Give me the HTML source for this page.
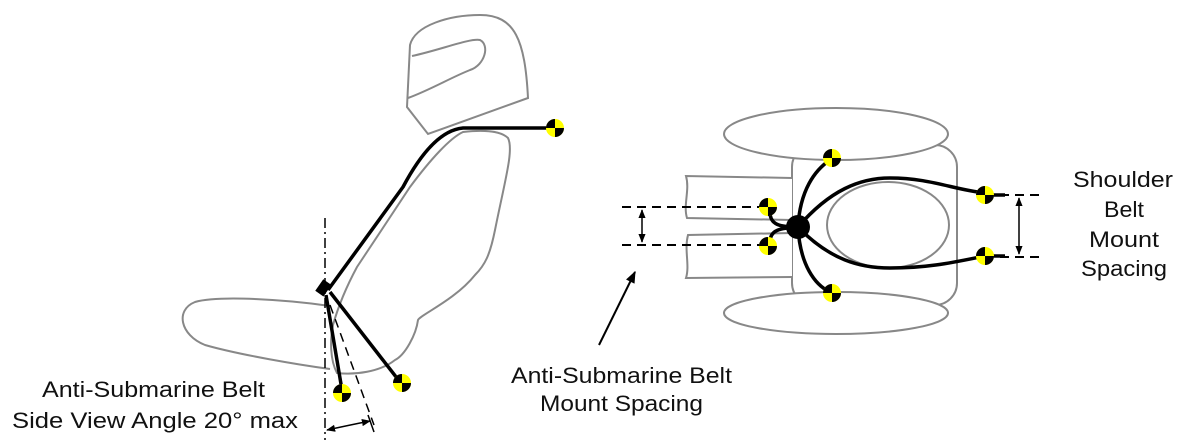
<!DOCTYPE html>
<html><head><meta charset="utf-8"><style>
html,body{margin:0;padding:0;background:#fff;}
svg{display:block;}
text{font-family:"Liberation Sans",Arial,sans-serif;font-size:22.5px;fill:#111;}
</style></head><body>
<svg width="1187" height="443" viewBox="0 0 1187 443" xmlns="http://www.w3.org/2000/svg">
<defs>
<g id="anc">
<circle r="9" fill="#ffff00"/>
<path d="M0,0 L-9,0 A9,9 0 0 1 0,-9 Z" fill="#000"/>
<path d="M0,0 L9,0 A9,9 0 0 1 0,9 Z" fill="#000"/>
</g>
<marker id="ah" viewBox="0 0 10 10" refX="9" refY="5" markerWidth="6" markerHeight="6" orient="auto-start-reverse"><path d="M0,1 L10,5 L0,9 Z" fill="#000"/></marker>
</defs>

<g fill="none" stroke="#888" stroke-width="2">
<path d="M407,107 L410,45 C415,25 450,15 480,15 C515,15 525,40 528,98 L428,134 Z"/>
<path d="M412,56 C440,50 470,38 480,40 C490,45 485,65 470,70 C450,78 430,90 408,98"/>
<path d="M463,132 C480,130 500,130 508,138 C514,150 505,180 495,230 C490,255 485,265 475,275 C455,300 420,315 418,320 C416,335 405,355 395,360 C380,372 355,375 337,373 C330,360 330,340 333,325 C340,300 350,280 357,267 L410,187 C430,160 450,138 463,132 Z"/>
<path d="M330,306 C290,300 220,295 195,302 C175,310 180,335 205,345 C240,355 300,365 330,369"/>
</g>
<line x1="325" y1="218" x2="325" y2="440" stroke="#000" stroke-width="1.5" stroke-dasharray="10,4,2,4"/>
<line x1="330" y1="305" x2="374" y2="425" stroke="#000" stroke-width="1.5" stroke-dasharray="9,6"/>
<line x1="368" y1="415" x2="374" y2="432" stroke="#000" stroke-width="1.5"/>
<path d="M327,430 Q350,425 370,421" fill="none" stroke="#000" stroke-width="1.5" marker-start="url(#ah)" marker-end="url(#ah)"/>
<path d="M553,128 L463,128 C440,130 420,155 403,187 L328,290" fill="none" stroke="#000" stroke-width="3.5"/>
<line x1="326" y1="295" x2="342" y2="390" stroke="#000" stroke-width="3.5"/>
<line x1="330" y1="292" x2="400" y2="382" stroke="#000" stroke-width="3.5"/>
<rect x="318" y="282" width="14" height="10" fill="#000" transform="rotate(-55 325 289)"/>
<use href="#anc" x="555" y="128"/>
<use href="#anc" x="342" y="393"/>
<use href="#anc" x="402" y="383"/>

<text x="42" y="397" textLength="223" lengthAdjust="spacingAndGlyphs">Anti-Submarine Belt</text>
<text x="12" y="428" textLength="286" lengthAdjust="spacingAndGlyphs">Side View Angle  20° max</text>

<g fill="#fff" stroke="#888" stroke-width="2">
<rect x="792" y="145" width="165" height="160" rx="22" ry="22"/>
<ellipse cx="836" cy="134" rx="112" ry="26"/>
<ellipse cx="836" cy="313" rx="112" ry="21"/>
<ellipse cx="888" cy="225" rx="61" ry="43"/>
<path d="M792,178 L686,176 C690,190 683,205 687,218 L792,220" />
<path d="M792,233 L688,235 C684,250 690,265 686,278 L792,277"/>
</g>
<g stroke="#000" stroke-width="2" stroke-dasharray="9,6">
<line x1="622" y1="207" x2="762" y2="207"/>
<line x1="622" y1="245" x2="762" y2="245"/>
<line x1="985" y1="195" x2="1045" y2="195"/>
<line x1="985" y1="257" x2="1045" y2="257"/>
</g>
<line x1="642" y1="210" x2="642" y2="242" stroke="#000" stroke-width="1.5" marker-start="url(#ah)" marker-end="url(#ah)"/>
<line x1="1019" y1="198" x2="1019" y2="254" stroke="#000" stroke-width="1.5" marker-start="url(#ah)" marker-end="url(#ah)"/>
<line x1="599" y1="345" x2="635" y2="272" stroke="#000" stroke-width="2" marker-end="url(#ah)"/>
<g fill="none" stroke="#000" stroke-width="3.5">
<path d="M798,227 C800,190 815,170 830,160"/>
<path d="M798,227 C800,265 815,285 830,292"/>
<path d="M798,227 C830,190 860,178 890,178 C930,178 955,190 985,193"/>
<path d="M798,227 C830,260 860,268 890,268 C930,268 955,262 985,256"/>
<path d="M798,227 C780,227 770,225 770,212"/>
<path d="M798,227 C780,228 770,230 770,242"/>
<line x1="985" y1="195" x2="1005" y2="195"/>
<line x1="985" y1="256" x2="1005" y2="256"/>
</g>
<circle cx="798" cy="227" r="12" fill="#000"/>
<use href="#anc" x="832" y="158"/>
<use href="#anc" x="832" y="293"/>
<use href="#anc" x="985" y="195"/>
<use href="#anc" x="985" y="256"/>
<use href="#anc" x="768" y="207"/>
<use href="#anc" x="768" y="246"/>

<text x="511" y="383" textLength="221" lengthAdjust="spacingAndGlyphs">Anti-Submarine Belt</text>
<text x="540" y="411" textLength="163" lengthAdjust="spacingAndGlyphs">Mount Spacing</text>
<text x="1073" y="187" textLength="100" lengthAdjust="spacingAndGlyphs">Shoulder</text>
<text x="1104" y="217" textLength="40" lengthAdjust="spacingAndGlyphs">Belt</text>
<text x="1089" y="247" textLength="70" lengthAdjust="spacingAndGlyphs">Mount</text>
<text x="1081" y="276" textLength="86" lengthAdjust="spacingAndGlyphs">Spacing</text>
</svg>
</body></html>
